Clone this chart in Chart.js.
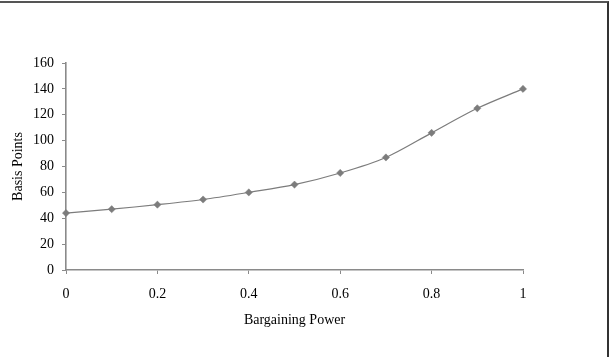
<!DOCTYPE html>
<html>
<head>
<meta charset="utf-8">
<script src="https://cdn.jsdelivr.net/npm/chart.js"></script>
<style>
  html, body { margin: 0; padding: 0; background: #fff; }
  #wrap { position: relative; width: 610px; height: 357px; }
  #frame {
    position: absolute; left: 0; top: 1px; width: 609px; height: 356px;
    box-sizing: border-box; border-top: 2px solid #555; border-right: 2px solid #333;
    pointer-events: none;
  }
</style>
</head>
<body>
<div id="wrap">
  <canvas id="chart" width="610" height="357"></canvas>
  <div id="frame"></div>
</div>
<script>
    'use strict';

    // bargaining power (x) and spread in basis points (y)
    const power = [0, 0.1, 0.2, 0.3, 0.4, 0.5, 0.6, 0.7, 0.8, 0.9, 1];
    const basisPoints = [44, 47, 50.5, 54.5, 60, 66, 75, 87, 106, 125, 140];
    const xTickLabels = ['0', '0.2', '0.4', '0.6', '0.8', '1'];
    const yTickLabels = ['0', '20', '40', '60', '80', '100', '120', '140', '160'];

    const grey = '#7c7c7c';
    const axisGrey = '#8a8a8a';
    const serif = "'Liberation Serif', 'Times New Roman', serif";

    const points = power.map((p, i) => ({ x: p, y: basisPoints[i] }));

    const ctx = document.getElementById('chart').getContext('2d');
    new Chart(ctx, {
        type: 'line',
        data: {
            datasets: [{
                label: 'Basis Points',
                data: points,
                borderColor: grey,
                borderWidth: 1.2,
                backgroundColor: grey,
                pointStyle: 'rectRot',
                pointRadius: 3.6,
                pointBackgroundColor: grey,
                pointBorderColor: grey,
                pointBorderWidth: 0.5,
                tension: 0.3,
                clip: false,
                fill: false
            }]
        },
        options: {
            responsive: false,
            animation: false,
            layout: { padding: { left: 0, top: 63, right: 87, bottom: 25 } },
            plugins: {
                legend: { display: false },
                tooltip: { enabled: false }
            },
            scales: {
                x: {
                    type: 'linear',
                    min: 0,
                    max: 1,
                    afterFit: (s) => { s.height = 62; },
                    border: { color: axisGrey, width: 1.6 },
                    grid: { drawOnChartArea: false, drawTicks: true, tickLength: 4, color: axisGrey, lineWidth: 1 },
                    ticks: {
                        stepSize: 0.2,
                        padding: 12,
                        color: '#000',
                        font: { family: serif, size: 14 },
                        maxRotation: 0,
                        callback: (v, i) => xTickLabels[i]
                    },
                    title: {
                        display: true,
                        text: 'Bargaining Power',
                        color: '#000',
                        font: { family: serif, size: 14 },
                        padding: { top: 0, bottom: 3 }
                    }
                },
                y: {
                    min: 0,
                    max: 160,
                    afterFit: (s) => { s.width = 66; },
                    border: { color: axisGrey, width: 1.6 },
                    grid: { drawOnChartArea: false, drawTicks: true, tickLength: 4, color: axisGrey, lineWidth: 1 },
                    ticks: {
                        stepSize: 20,
                        padding: 8,
                        color: '#000',
                        font: { family: serif, size: 14 },
                        callback: (v, i) => yTickLabels[i]
                    },
                    title: {
                        display: true,
                        text: 'Basis Points',
                        color: '#000',
                        font: { family: serif, size: 14 },
                        padding: { top: 10, bottom: 0 }
                    }
                }
            }
        }
    });
</script>
</body>
</html>
